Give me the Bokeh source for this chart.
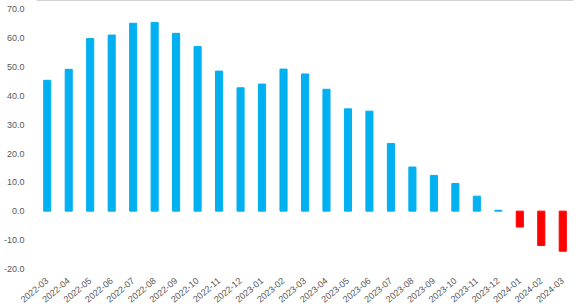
from bokeh.plotting import figure
from bokeh.models import ColumnDataSource, FixedTicker, NumeralTickFormatter, Span
from bokeh.embed import file_html
from bokeh.resources import INLINE
import math

months = ["2022-03", "2022-04", "2022-05", "2022-06", "2022-07", "2022-08", "2022-09",
          "2022-10", "2022-11", "2022-12", "2023-01", "2023-02", "2023-03", "2023-04",
          "2023-05", "2023-06", "2023-07", "2023-08", "2023-09", "2023-10", "2023-11",
          "2023-12", "2024-01", "2024-02", "2024-03"]
values = [45.4, 49.2, 59.9, 61.1, 65.2, 65.5, 61.7,
          57.1, 48.6, 42.8, 44.1, 49.3, 47.6, 42.3,
          35.5, 34.7, 23.5, 15.3, 12.4, 9.6, 5.2,
          0.3, -5.5, -11.9, -13.9]
y_ticks = [-20, -10, 0, 10, 20, 30, 40, 50, 60, 70]

pos_color = "#00B0F0"
neg_color = "#FF0000"
colors = [pos_color if v >= 0 else neg_color for v in values]

src = ColumnDataSource(dict(month=months, value=values, color=colors))

p = figure(x_range=months, y_range=(-20.6, 73.1), width=580, height=308,
           output_backend="svg", toolbar_location=None,
           min_border_left=33, min_border_right=7, min_border_top=0, min_border_bottom=38)

p.vbar(x="month", top="value", bottom=0, width=0.33, color="color", source=src)

p.outline_line_color = None
p.xgrid.grid_line_color = None
p.ygrid.grid_line_color = None

font = "Liberation Sans"
p.yaxis.ticker = FixedTicker(ticks=y_ticks)
p.yaxis.formatter = NumeralTickFormatter(format="0.0")
for ax in (p.xaxis[0], p.yaxis[0]):
    ax.axis_line_color = None
    ax.major_tick_line_color = None
    ax.minor_tick_line_color = None
    ax.major_label_text_font = font
    ax.major_label_text_font_size = "9px"
    ax.major_label_text_color = "#595959"
p.yaxis.major_label_standoff = 6
p.xaxis.major_label_orientation = 0.7
p.xaxis.major_label_standoff = 3

p.add_layout(Span(location=73.1, dimension="width", line_color="#a6a6a6", line_width=1))

open("out.html", "w").write(file_html(p, INLINE))
